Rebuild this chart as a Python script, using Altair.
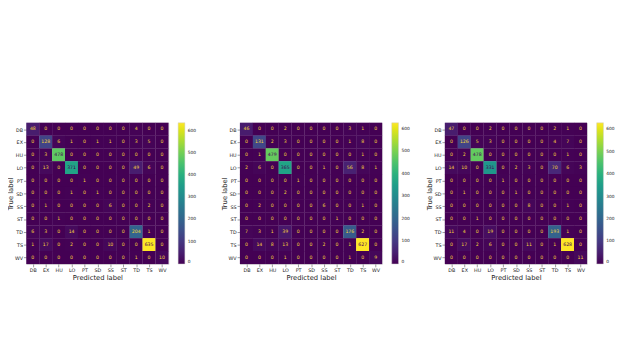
import altair as alt
import pandas as pd

labels = ["DB", "EX", "HU", "LO", "PT", "SD", "SS", "ST", "TD", "TS", "WV"]

cm1 = [
    [48, 0, 0, 0, 0, 0, 0, 0, 4, 0, 0],
    [0, 128, 6, 1, 0, 1, 1, 0, 3, 5, 0],
    [0, 3, 478, 0, 0, 0, 0, 0, 0, 0, 0],
    [0, 13, 0, 371, 0, 0, 0, 0, 49, 6, 0],
    [0, 0, 0, 0, 1, 0, 0, 0, 0, 0, 0],
    [0, 0, 0, 1, 0, 1, 0, 0, 0, 0, 0],
    [0, 1, 0, 0, 0, 0, 6, 0, 0, 2, 0],
    [0, 0, 1, 0, 0, 0, 0, 0, 0, 0, 0],
    [6, 3, 0, 14, 0, 0, 0, 0, 204, 1, 0],
    [1, 17, 0, 2, 0, 0, 10, 0, 0, 635, 0],
    [0, 0, 0, 0, 0, 0, 0, 0, 1, 0, 10],
]

cm2 = [
    [46, 0, 0, 2, 0, 0, 0, 0, 3, 1, 0],
    [0, 131, 2, 3, 0, 0, 0, 0, 1, 8, 0],
    [0, 1, 479, 0, 0, 0, 0, 0, 0, 1, 0],
    [2, 6, 0, 365, 0, 0, 1, 0, 56, 8, 1],
    [0, 0, 0, 0, 1, 0, 0, 0, 0, 0, 0],
    [0, 0, 0, 2, 0, 0, 0, 0, 0, 0, 0],
    [0, 2, 0, 0, 0, 0, 6, 0, 0, 1, 0],
    [0, 0, 0, 0, 0, 0, 0, 1, 0, 0, 0],
    [7, 3, 1, 39, 0, 0, 0, 0, 176, 2, 0],
    [0, 14, 8, 13, 0, 0, 2, 0, 1, 627, 0],
    [0, 0, 0, 1, 0, 0, 0, 0, 1, 0, 9],
]

cm3 = [
    [47, 0, 0, 2, 0, 0, 0, 0, 2, 1, 0],
    [0, 126, 5, 3, 0, 0, 0, 0, 4, 7, 0],
    [0, 2, 478, 0, 0, 0, 0, 0, 0, 1, 0],
    [14, 10, 0, 331, 0, 2, 3, 0, 70, 6, 3],
    [0, 0, 0, 0, 1, 0, 0, 0, 0, 0, 0],
    [0, 1, 0, 0, 0, 1, 0, 0, 0, 0, 0],
    [0, 0, 0, 0, 0, 0, 8, 0, 0, 1, 0],
    [0, 0, 1, 0, 0, 0, 0, 0, 0, 0, 0],
    [11, 4, 0, 19, 0, 0, 0, 0, 193, 1, 0],
    [0, 17, 2, 6, 0, 0, 11, 0, 1, 628, 0],
    [0, 0, 0, 0, 0, 0, 0, 0, 0, 0, 11],
]

cbar_ticks = [0, 100, 200, 300, 400, 500, 600]

FONT = "DejaVu Sans"


def panel(cm):
    rows = []
    for i, t in enumerate(labels):
        for j, p in enumerate(labels):
            rows.append({"true": t, "pred": p, "v": cm[i][j]})
    df = pd.DataFrame(rows)
    vmax = max(max(r) for r in cm)
    thr = vmax / 2.0
    base = alt.Chart(df).encode(
        x=alt.X("pred:N", sort=labels, title="Predicted label",
                scale=alt.Scale(paddingInner=0, paddingOuter=0),
                axis=alt.Axis(labelAngle=0, labelFontSize=5, titleFontSize=7,
                              tickSize=3, labelPadding=1, titlePadding=1,
                              domain=False, labelColor="#222", titleColor="#222",
                              titleFontWeight="normal", labelFont=FONT, titleFont=FONT,
                              tickColor="#333", tickWidth=0.5)),
        y=alt.Y("true:N", sort=labels, title="True label",
                scale=alt.Scale(paddingInner=0, paddingOuter=0),
                axis=alt.Axis(labelFontSize=5, titleFontSize=7,
                              tickSize=3, labelPadding=1, titlePadding=1,
                              domain=False, labelColor="#222", titleColor="#222",
                              titleFontWeight="normal", labelFont=FONT, titleFont=FONT,
                              tickColor="#333", tickWidth=0.5)),
    )
    cscale = alt.Scale(scheme="viridis", domain=[0, vmax])
    cells = base.mark_square(size=184, filled=True, opacity=1, strokeWidth=0).encode(
        color=alt.Color("v:Q", scale=cscale,
                        legend=alt.Legend(title=None, values=cbar_ticks, type="gradient",
                                          gradientLength=146, gradientThickness=7,
                                          labelFontSize=4.5, labelFont=FONT,
                                          labelColor="#222", labelOffset=3,
                                          offset=10, padding=0, labelOverlap=False,
                                          gradientStrokeColor="#cccccc",
                                          gradientStrokeWidth=0.5,
                                          direction="vertical", orient="right")),
    )
    text = base.mark_text(fontSize=4.8, font=FONT).encode(
        text="v:Q",
        color=alt.condition(f"datum.v > {thr}", alt.value("#440154"), alt.value("#f5d13a")),
    )
    return alt.layer(cells, text).properties(width=147, height=146)


p1 = panel(cm1)
p2 = panel(cm2)
p3 = panel(cm3)

left = alt.hconcat(p1, p2, spacing=23).resolve_scale(color="independent")
chart = (
    alt.hconcat(left, p3, spacing=14)
    .resolve_scale(color="independent")
    .properties(padding={"left": -2, "top": 113, "right": 0, "bottom": 0})
    .configure_view(stroke="#bbbbbb", strokeWidth=0.8)
    .configure(background="white")
)

chart.save("out.html", embed_options={"renderer": "svg", "actions": False})
